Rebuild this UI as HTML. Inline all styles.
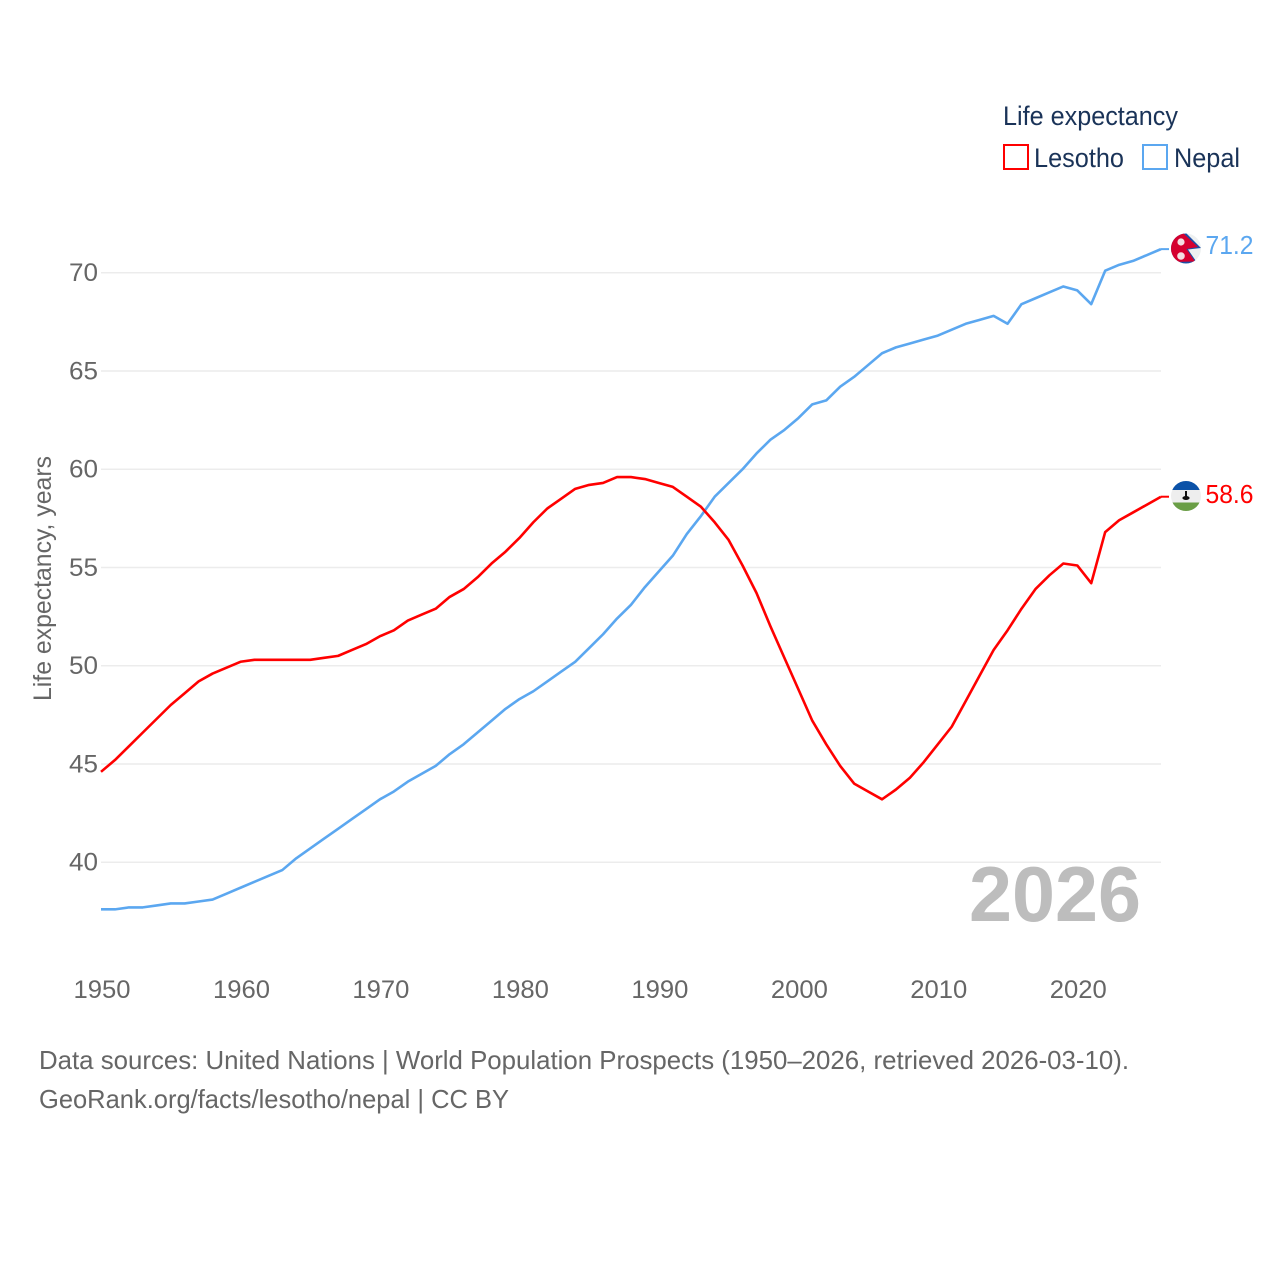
<!DOCTYPE html>
<html lang="en">
<head>
<meta charset="utf-8">
<title>Life expectancy: Lesotho and Nepal</title>
<style>
html,body{margin:0;padding:0;background:#fff;}
svg{display:block;font-family:"Liberation Sans",sans-serif;}
</style>
</head>
<body>
<svg id="chart" xmlns="http://www.w3.org/2000/svg" width="1280" height="1280" viewBox="0 0 1280 1280">
  <rect width="1280" height="1280" fill="#fff"/>
  <g id="grid"></g>
  <g id="yticks"></g>
  <g id="xticks"></g>
  <text transform="translate(51,701) rotate(-90)" font-size="25" fill="#666" textLength="245" lengthAdjust="spacingAndGlyphs">Life expectancy, years</text>
  <text x="969" y="921" font-size="78" font-weight="700" fill="#bdbdbd" textLength="172" lengthAdjust="spacingAndGlyphs">2026</text>
  <g id="series"></g>

  <g>
    <text x="1003" y="125" font-size="27" fill="#1a3358" textLength="175" lengthAdjust="spacingAndGlyphs">Life expectancy</text>
    <g>
      <rect x="1004" y="145" width="24" height="24" fill="#fff" stroke="#ff0000" stroke-width="2"/>
      <text x="1034" y="167" font-size="27" fill="#1a3358" textLength="90" lengthAdjust="spacingAndGlyphs">Lesotho</text>
    </g>
    <g>
      <rect x="1143" y="145" width="24" height="24" fill="#fff" stroke="#5ba7f0" stroke-width="2"/>
      <text x="1174" y="167" font-size="27" fill="#1a3358" textLength="66" lengthAdjust="spacingAndGlyphs">Nepal</text>
    </g>
  </g>

  <defs>
    <clipPath id="flagClipN"><circle cx="1186" cy="248.5" r="15"/></clipPath>
    <clipPath id="flagClipL"><circle cx="1186" cy="496" r="15"/></clipPath>
  </defs>

  <g clip-path="url(#flagClipN)">
    <rect x="1171" y="233" width="30" height="31" fill="#edf0f1"/>
    <polygon points="1171,231 1184,231 1201,248 1188,249.5 1198,264 1171,264" fill="#1c4fa5"/>
    <polygon points="1171,232 1182,232 1198,247 1186.5,249 1195,261.5 1171,262" fill="#d5002f"/>
    <circle cx="1181" cy="242" r="3.6" fill="#f3dfe2"/>
    <circle cx="1181" cy="256" r="3.8" fill="#f3dfe2"/>
  </g>

  <g clip-path="url(#flagClipL)">
    <rect x="1171" y="481" width="30" height="30" fill="#eeeeee"/>
    <rect x="1171" y="481" width="30" height="9" fill="#0b52a8"/>
    <rect x="1171" y="502.5" width="30" height="9" fill="#6a9e46"/>
    <rect x="1185" y="491" width="2" height="6" fill="#111"/>
    <ellipse cx="1186" cy="498" rx="3.6" ry="2" fill="#111"/>
  </g>

  <text x="1205.5" y="254" font-size="26" fill="#5ba7f0" textLength="48" lengthAdjust="spacingAndGlyphs">71.2</text>
  <text x="1205.5" y="503" font-size="26" fill="#ff0000" textLength="48" lengthAdjust="spacingAndGlyphs">58.6</text>

  <text x="39" y="1069" font-size="26" fill="#666" textLength="1090" lengthAdjust="spacingAndGlyphs">Data sources: United Nations | World Population Prospects (1950–2026, retrieved 2026-03-10).</text>
  <a>
    <text x="39" y="1108" font-size="26" fill="#666" textLength="470" lengthAdjust="spacingAndGlyphs">GeoRank.org/facts/lesotho/nepal | CC BY</text>
  </a>
</svg>

<script>
const startYear = 1950;
const yTickValues = [40, 45, 50, 55, 60, 65, 70];
const xTickValues = [1950, 1960, 1970, 1980, 1990, 2000, 2010, 2020];
const lesothoValues = [44.6,45.2,45.9,46.6,47.3,48.0,48.6,49.2,49.6,49.9,
  50.2,50.3,50.3,50.3,50.3,50.3,50.4,50.5,50.8,51.1,
  51.5,51.8,52.3,52.6,52.9,53.5,53.9,54.5,55.2,55.8,
  56.5,57.3,58.0,58.5,59.0,59.2,59.3,59.6,59.6,59.5,
  59.3,59.1,58.6,58.1,57.3,56.4,55.1,53.7,52.0,50.4,
  48.8,47.2,46.0,44.9,44.0,43.6,43.2,43.7,44.3,45.1,
  46.0,46.9,48.2,49.5,50.8,51.8,52.9,53.9,54.6,55.2,
  55.1,54.2,56.8,57.4,57.8,58.2,58.6];
const nepalValues = [37.6,37.6,37.7,37.7,37.8,37.9,37.9,38.0,38.1,38.4,
  38.7,39.0,39.3,39.6,40.2,40.7,41.2,41.7,42.2,42.7,
  43.2,43.6,44.1,44.5,44.9,45.5,46.0,46.6,47.2,47.8,
  48.3,48.7,49.2,49.7,50.2,50.9,51.6,52.4,53.1,54.0,
  54.8,55.6,56.7,57.6,58.6,59.3,60.0,60.8,61.5,62.0,
  62.6,63.3,63.5,64.2,64.7,65.3,65.9,66.2,66.4,66.6,
  66.8,67.1,67.4,67.6,67.8,67.4,68.4,68.7,69.0,69.3,
  69.1,68.4,70.1,70.4,70.6,70.9,71.2];

const SVG_NS = 'http://www.w3.org/2000/svg';
function xScale(year) { return 101 + (year - 1950) * 13.947; }
function yScale(value) { return 862.2 - (value - 40) * 19.65; }
function make(tag, attrs) {
  const el = document.createElementNS(SVG_NS, tag);
  for (const k in attrs) el.setAttribute(k, attrs[k]);
  return el;
}

const gridGroup = document.getElementById('grid');
const yGroup = document.getElementById('yticks');
yTickValues.forEach(function (v) {
  const line = make('line', {x1: 101, x2: 1161, y1: yScale(v), y2: yScale(v), stroke: '#ececec', 'stroke-width': 1.5});
  
  
  gridGroup.appendChild(line);
  const label = make('text', {x: 98, y: yScale(v) + 8.3, 'text-anchor': 'end', 'font-size': 25, fill: '#666', textLength: 29, lengthAdjust: 'spacingAndGlyphs'});
  
  
  label.textContent = String(v);
  yGroup.appendChild(label);
});

const xGroup = document.getElementById('xticks');
xTickValues.forEach(function (yr) {
  const label = make('text', {x: xScale(yr) + 1, y: 998, 'text-anchor': 'middle', 'font-size': 25, fill: '#666', textLength: 57, lengthAdjust: 'spacingAndGlyphs'});
  
  
  label.textContent = String(yr);
  xGroup.appendChild(label);
});

function seriesPoints(values) {
  return values.map(function (v, i) {
    return xScale(startYear + i).toFixed(2) + ',' + yScale(v).toFixed(2);
  });
}
const seriesGroup = document.getElementById('series');

const nepalLine = make('polyline', {points: seriesPoints(nepalValues).join(' '), fill: 'none', stroke: '#5ba7f0', 'stroke-width': 2.6, 'stroke-linejoin': 'round'});


seriesGroup.appendChild(nepalLine);

const lesothoLine = make('polyline', {points: seriesPoints(lesothoValues).join(' '), fill: 'none', stroke: '#ff0000', 'stroke-width': 2.6, 'stroke-linejoin': 'round'});


seriesGroup.appendChild(lesothoLine);

const lastYear = startYear + nepalValues.length - 1;
const nepalLeader = make('line', {x1: xScale(lastYear), x2: 1169, y1: yScale(nepalValues[nepalValues.length - 1]), y2: yScale(nepalValues[nepalValues.length - 1]), stroke: '#5ba7f0', 'stroke-width': 2});


seriesGroup.appendChild(nepalLeader);

const lesothoLeader = make('line', {x1: xScale(lastYear), x2: 1169, y1: yScale(lesothoValues[lesothoValues.length - 1]), y2: yScale(lesothoValues[lesothoValues.length - 1]), stroke: '#ff0000', 'stroke-width': 2});


seriesGroup.appendChild(lesothoLeader);
</script>
</body>
</html>
